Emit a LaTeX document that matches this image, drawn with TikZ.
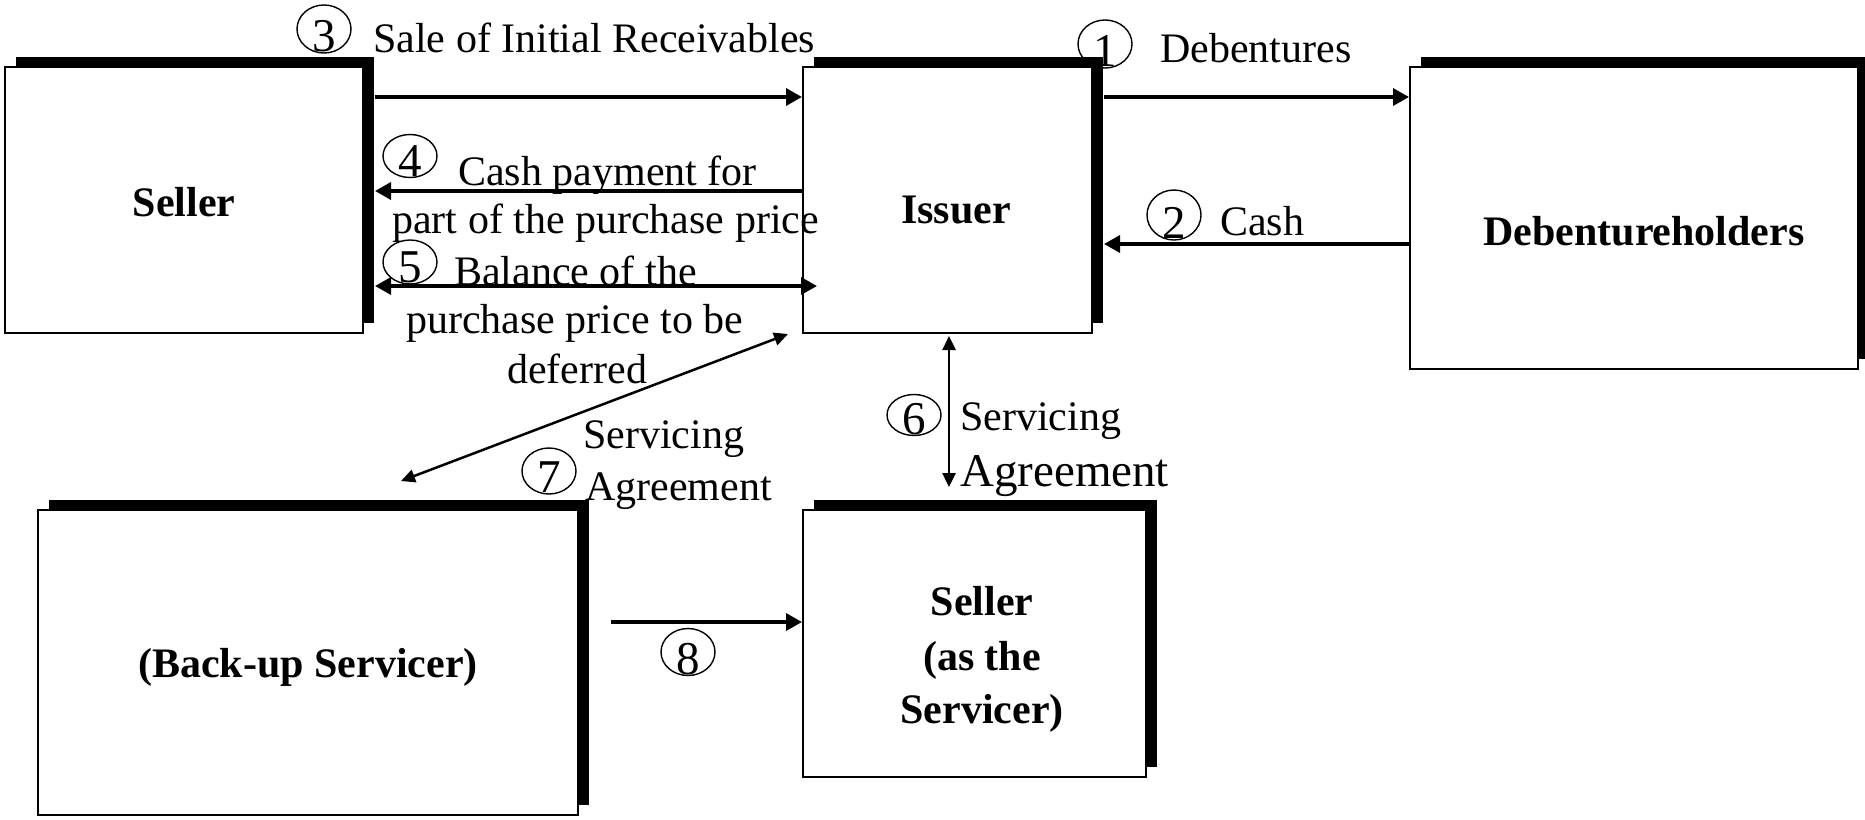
\documentclass[tikz,border=0pt]{standalone}
\usepackage{fontspec}
\setmainfont{Liberation Serif}
\usetikzlibrary{arrows.meta,shapes.geometric,shadows,calc}
\newcommand\lblfont{\fontsize{42}{50}\selectfont}
\newcommand\bigfont{\fontsize{47}{54}\selectfont}
\newcommand\numfont{\fontsize{47}{47}\selectfont}
\tikzset{
  box/.style={draw, line width=2pt, fill=white, inner sep=0pt,
    drop shadow={shadow xshift=11pt, shadow yshift=10pt, fill=black, opacity=1}},
  boxtext/.style={font=\lblfont\bfseries, inner sep=0pt, align=center},
  lbl/.style={font=\lblfont, inner sep=0pt, anchor=base west},
  num/.style={draw, ellipse, line width=1.4pt, minimum width=54pt, minimum height=46pt,
    inner sep=0pt,
    label={[inner sep=0pt, font=\numfont, anchor=base, yshift=2pt]south:#1}},
  arr/.style={line width=3.5pt, -{Triangle[length=16pt,width=17pt]}},
  darr/.style={line width=3.5pt, {Triangle[length=16pt,width=17pt]}-{Triangle[length=16pt,width=17pt]}},
  thinarr/.style={line width=2.5pt, {Triangle[length=14pt,width=13pt]}-{Triangle[length=14pt,width=13pt]}},
}
\begin{document}
\begin{tikzpicture}[x=1pt, y=-1pt]
\useasboundingbox (0,0) rectangle (1865,819);

% boxes
\node[box, minimum width=358pt, minimum height=266pt] (seller) at (184,200) {};
\node[box, minimum width=289pt, minimum height=266pt] (issuer) at (947.5,200) {};
\node[box, minimum width=448pt, minimum height=302pt] (debt) at (1634,218) {};
\node[box, minimum width=540pt, minimum height=305pt] (backup) at (308,662.5) {};
\node[box, minimum width=343pt, minimum height=267pt] (servicer) at (974.5,643.5) {};

% box texts
\node[boxtext, anchor=base] (tseller) at (184,216) {Seller};
\node[boxtext, anchor=base] (tissuer) at (956,223) {Issuer};
\node[boxtext, anchor=base] (tdebt) at (1644,245) {Debentureholders};
\node[boxtext, anchor=base] (tbackup) at (308,677) {(Back-up Servicer)};
\node[boxtext, anchor=base] (tserv1) at (982,615) {Seller};
\node[boxtext, anchor=base] (tserv2) at (982,670) {(as the};
\node[boxtext, anchor=base] (tserv3) at (982,723) {Servicer)};

% connectors
\draw[arr] ($(issuer.north east)+(11,31)$) -- ($(debt.north west)+(0,31)$);
\draw[arr] ($(debt.north west)+(0,178)$) -- ($(issuer.north east)+(11,178)$);
\draw[arr] ($(seller.north east)+(11,31)$) -- ($(issuer.north west)+(0,31)$);
\draw[arr] ($(issuer.north west)+(0,125)$) -- ($(seller.north east)+(11,125)$);
\draw[darr] ($(seller.north east)+(11,220)$) -- ($(issuer.north west)+(15,220)$);
\draw[thinarr] ($(issuer.south west)+(147,2)$) -- ($(servicer.north west)+(147,-22)$);
\draw[thinarr] ($(issuer.south west)+(-14,0)$) -- ($(backup.north west)+(364,-28)$);
\draw[arr] ($(backup.north east)+(32,113)$) -- ($(servicer.north west)+(0,113)$);

% labels
\node[num=3, minimum height=48pt] (n3) at (324,29) {};
\node[lbl] (l3) at (373,52) {Sale of Initial Receivables};
\node[num=4, minimum height=43pt] (n4) at (410,156) {};
\node[lbl] (l4a) at (458,185) {Cash payment for};
\node[lbl] (l4b) at (392,233) {part of the purchase price};
\node[num=5, minimum height=44pt] (n5) at (410,262) {};
\node[lbl] (l5a) at (454,285) {Balance of the};
\node[lbl] (l5b) at (406,333) {purchase price to be};
\node[lbl] (l5c) at (507,383) {deferred};
\node[num=1, minimum height=48pt] (n1) at (1105,44) {};
\node[lbl] (l1) at (1160,62) {Debentures};
\node[num=2, minimum height=50pt] (n2) at (1174,215) {};
\node[lbl] (l2) at (1220,235) {Cash};
\node[num=6, minimum height=41pt] (n6) at (914,415) {};
\node[lbl] (l6a) at (960,430) {Servicing};
\node[lbl, font=\bigfont] (l6b) at (960,486) {Agreement};
\node[num=7] (n7) at (549,471) {};
\node[lbl] (l7a) at (583,448) {Servicing};
\node[lbl] (l7b) at (585,500) {Agreement};
\node[num=8, minimum height=47pt] (n8) at (688,652) {};
\end{tikzpicture}
\end{document}
